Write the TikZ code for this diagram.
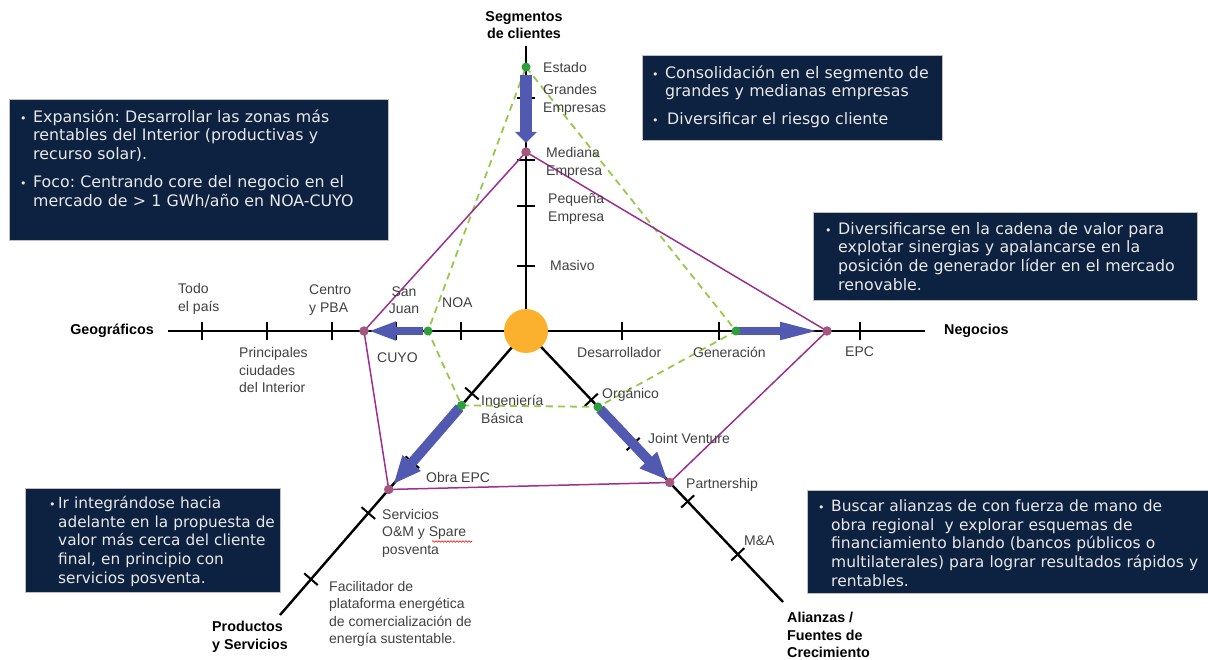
\documentclass[tikz,border=0pt]{standalone}
\usepackage{fontspec}
\setmainfont{Liberation Sans}
\newfontfamily\boxfont{DejaVu Sans}
\usetikzlibrary{arrows.meta,calc,decorations.pathmorphing}
\definecolor{navy}{HTML}{0D2140}
\definecolor{boxtxt}{HTML}{E9E9E9}
\definecolor{lblc}{HTML}{404040}
\definecolor{arrowblue}{HTML}{5159B0}
\definecolor{gdash}{HTML}{96C94A}
\definecolor{gdotc}{HTML}{2E9E3C}
\definecolor{purp}{HTML}{9C2F8F}
\definecolor{pdotc}{HTML}{A3567E}
\definecolor{orangec}{HTML}{FBB12E}
\newcommand\nl{\unskip\hfil\break}
\newcommand\bitem[2][13pt]{\par\hangindent=#1\hangafter=1\noindent\makebox[#1][l]{\fontsize{11}{11}\selectfont•}#2\par}
\newcommand\tk[1]{\draw[tickline] ($(#1)!9pt!90:(C)$) -- ($(#1)!9pt!-90:(C)$);}
\begin{document}
\begin{tikzpicture}[x=1pt,y=-1pt,
  axisline/.style={draw=black, line width=2.4pt},
  tickline/.style={draw=black, line width=2pt},
  lbl/.style={text=lblc, font=\fontsize{14}{17.5}\selectfont, inner sep=0, align=left, anchor=west},
  ttl/.style={text=black, font=\bfseries\fontsize{14.3}{17.5}\selectfont, inner sep=0, align=left},
  boxbg/.style={fill=navy, draw=gray!50, line width=0.6pt, anchor=north west, inner sep=0, minimum width=#1},
  tbox/.style={text=boxtxt, font=\boxfont\fontsize{15.8}{18.9}\selectfont\frenchspacing, inner sep=0, align=left, anchor=north west, text width=#1},
  gline/.style={draw=gdash, line width=1.8pt, dash pattern=on 7pt off 5pt},
  pline/.style={draw=purp, line width=1.5pt},
  gdot/.style={circle, fill=gdotc, inner sep=0, minimum size=9pt},
  pdot/.style={circle, fill=pdotc, inner sep=0, minimum size=9.5pt},
  barrow/.style={draw=arrowblue, line width=#1}
]
\useasboundingbox (0,0) rectangle (1208,660);

% axes
\coordinate (C) at (526,331);
\coordinate (T) at (526,46);
\coordinate (L) at (168,331);
\coordinate (R) at (925,331);
\coordinate (LL) at (280,615);
\coordinate (LR) at (783,602);
\draw[axisline] (C) -- (T);
\draw[axisline] (L) -- (R);
\draw[axisline] (C) -- (LL);
\draw[axisline] (C) -- (LR);

% tick coordinates
\coordinate (v1) at (526,98);
\coordinate (v2) at (526,160);
\coordinate (v3) at (526,206);
\coordinate (v4) at (526,266);
\coordinate (h1) at (202,331);
\coordinate (h2) at (267,331);
\coordinate (h3) at (332,331);
\coordinate (h4) at (396,331);
\coordinate (h5) at (461,331);
\coordinate (h6) at (622,331);
\coordinate (h7) at (719,331);
\coordinate (h8) at (860,331);
\path (C) -- (LL) coordinate[pos=0.22] (a1) coordinate[pos=0.462] (a2)
  coordinate[pos=0.641] (a3) coordinate[pos=0.874] (a4)
  coordinate[pos=0.262] (cING) coordinate[pos=0.558] (cOBR);
\path (C) -- (LR) coordinate[pos=0.254] (b1) coordinate[pos=0.417] (b2)
  coordinate[pos=0.629] (b3) coordinate[pos=0.824] (b4)
  coordinate[pos=0.28] (cORG) coordinate[pos=0.559] (cPAR);
\foreach \t in {v1,v2,v3,v4,h1,h2,h3,h4,h5,h6,h7,h8,a1,a2,a3,a4,b1,b2,b3,b4} {\tk{\t}}

% dot positions
\coordinate (cEST) at (526,67);
\coordinate (cNOA) at (428,331);
\coordinate (cGEN) at (736,331);
\coordinate (cMED) at (526,152);
\coordinate (cLP) at (364,331);
\coordinate (cEPC) at (827,331);

% polygons
\draw[gline] (cEST) -- (cGEN) -- (cORG) -- (cING) -- (cNOA) -- cycle;
\draw[pline] (cMED) -- (cEPC) -- (cPAR) -- (cOBR) -- (cLP) -- cycle;

% blue arrows
\draw[barrow=12pt, -{Triangle[length=11pt,width=21pt]}, shorten <=8pt, shorten >=9pt] (cEST) -- (cMED);
\draw[barrow=7.5pt, -{Triangle[length=28pt,width=17pt]}, shorten <=5pt, shorten >=4pt] (cNOA) -- (cLP);
\draw[barrow=7.5pt, -{Triangle[length=40pt,width=16pt]}, shorten <=2pt, shorten >=7pt] (cGEN) -- (cEPC);
\draw[barrow=10pt, -{Triangle[length=28pt,width=22pt]}, shorten <=3pt, shorten >=7pt] (cING) -- (cOBR);
\draw[barrow=10pt, -{Triangle[length=28pt,width=22pt]}, shorten <=3pt, shorten >=3pt] (cORG) -- (cPAR);

% dots
\node[gdot] (dEST) at (cEST) {};
\node[gdot] (dNOA) at (cNOA) {};
\node[gdot] (dGEN) at (cGEN) {};
\node[gdot] (dING) at (cING) {};
\node[gdot] (dORG) at (cORG) {};
\node[pdot] (dMED) at (cMED) {};
\node[pdot] (dLP) at (cLP) {};
\node[pdot] (dEPC) at (cEPC) {};
\node[pdot] (dOBR) at (cOBR) {};
\node[pdot] (dPAR) at (cPAR) {};

% centre
\node[circle, fill=orangec, minimum size=44pt, inner sep=0] (core) at (C) {};

% axis titles
\node[ttl, align=center] (tSeg) at (524,25) {Segmentos\\de clientes};
\node[ttl] (tGeo) at (112,331) {Geográficos};
\node[ttl, anchor=west] (tNeg) at (944,331) {Negocios};
\node[ttl, anchor=west] (tPro) at (212,637) {Productos\\y Servicios};
\node[ttl, anchor=west] (tAli) at (787,635) {Alianzas /\\Fuentes de\\Crecimiento};

% labels
\node[lbl] (lEst) at (543,67) {Estado};
\node[lbl] (lGra) at (543,100) {Grandes\\Empresas};
\node[lbl] (lMed) at (546,163) {Mediana\\Empresa};
\node[lbl] (lPeq) at (548,209) {Pequeña\\Empresa};
\node[lbl] (lMas) at (550,265) {Masivo};
\node[lbl] (lTod) at (178,299) {Todo\\el país};
\node[lbl] (lCen) at (309,300) {Centro\\y PBA};
\node[lbl, align=center, anchor=center] (lSJ) at (404,300) {San\\Juan};
\node[lbl] (lNOA) at (442,303) {NOA};
\node[lbl] (lPri) at (239,370) {Principales\\ciudades\\del Interior};
\node[lbl] (lCuy) at (377,358) {CUYO};
\node[lbl] (lDes) at (577,352) {Desarrollador};
\node[lbl] (lGen) at (693,352) {Generación};
\node[lbl] (lEPC) at (845,352) {EPC};
\node[lbl] (lOrg) at (602,395) {Orgánico};
\node[lbl] (lIng) at (481,409.5) {Ingeniería\\Básica};
\node[lbl] (lJV) at (648,438) {Joint Venture};
\node[lbl] (lObr) at (426,477) {Obra EPC};
\node[lbl] (lPar) at (686,485) {Partnership};
\node[lbl] (lSer) at (382,533) {Servicios\\O\&M y Spare\\posventa};
\node[lbl] (lMA) at (744,541) {M\&A};
\node[lbl] (lFac) at (329,614) {Facilitador de\\plataforma energética\\de comercialización de\\energía sustentable.};
\draw[red, line width=0.6pt, decorate, decoration={snake, amplitude=0.8pt, segment length=3pt}] (432,541.5) -- (472,541.5);

% boxes
\node[boxbg=379pt, minimum height=141pt] (box1) at (9,99) {};
\node[tbox=366pt] (box1t) at (20,103) {\bitem{Expansión: Desarrollar las zonas más\nl rentables del Interior (productivas y\nl recurso solar).}\vspace{9pt}\bitem{Foco: Centrando core del negocio en el\nl mercado de > 1 GWh/año en NOA-CUYO}};

\node[boxbg=300pt, minimum height=85pt] (box2) at (642,55) {};
\node[tbox=288pt] (box2t) at (652,59) {\bitem{Consolidación en el segmento de\nl grandes y medianas empresas}\vspace{9pt}\bitem{\hspace{2pt}Diversificar el riesgo cliente}};

\node[boxbg=384pt, minimum height=88pt] (box3) at (813,212) {};
\node[tbox=380pt] (box3t) at (825,215) {\bitem{Diversificarse en la cadena de valor para\nl explotar sinergias y apalancarse en la\nl posición de generador líder en el mercado\nl renovable.}};

\node[boxbg=255pt, minimum height=104pt] (box4) at (25,488) {};
\node[tbox=240pt, font=\boxfont\fontsize{15.3}{18.9}\selectfont\frenchspacing] (box4t) at (49,489) {\bitem[9pt]{Ir integrándose hacia\nl adelante en la propuesta de\nl valor más cerca del cliente\nl final, en principio con\nl servicios posventa.}};

\node[boxbg=402pt, minimum height=103pt] (box5) at (807,490) {};
\node[tbox=388pt, font=\boxfont\fontsize{15.5}{18.9}\selectfont\frenchspacing] (box5t) at (818,492) {\bitem{Buscar alianzas de con fuerza de mano de\nl obra regional\ \ y explorar esquemas de\nl financiamiento blando (bancos públicos o\nl multilaterales) para lograr resultados rápidos y\nl rentables.}};
\end{tikzpicture}
\end{document}
